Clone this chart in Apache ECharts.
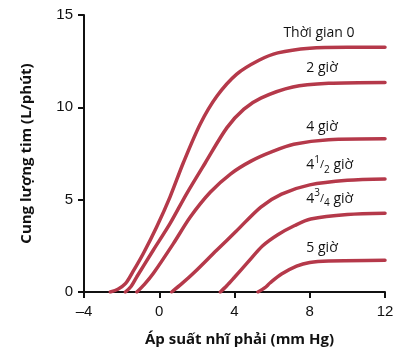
<!DOCTYPE html>
<html>
<head>
<meta charset="utf-8">
<script src="https://cdn.jsdelivr.net/npm/echarts@6/dist/echarts.min.js"></script>
<style>html,body{margin:0;padding:0;background:#fff}#c{width:407px;height:362px}</style>
</head>
<body>
<div id="c"></div>
<script>
const xTicks = [-4, 0, 4, 8, 12];
const yTicks = [0, 5, 10, 15];
const xName = 'Áp suất nhĩ phải (mm Hg)';
const yName = 'Cung lượng tim (L/phút)';

const curve0 = [[-2.6,0],[-2.2,0.15],[-1.8,0.45],[-1.4,1.1],[-0.84,2.1],[-0.14,3.52],[0.57,5.14],[1.28,7.0],[2.18,9.1],[3.06,10.6],[4.12,11.8],[5.3,12.55],[6.3,12.95],[8,13.2],[10,13.25],[12,13.25]];
const curve2h = [[-1.8,0],[-1.5,0.3],[-1.2,0.81],[-0.32,2.26],[0.57,3.7],[1.46,5.33],[2.45,7.0],[3.6,8.9],[4.5,9.9],[5.4,10.5],[7.1,11.1],[9,11.3],[12,11.35]];
const curve4h = [[-1.19,0],[-0.8,0.4],[-0.32,1.0],[0.75,2.62],[1.65,4.06],[2.71,5.4],[3.8,6.4],[4.9,7.1],[6,7.6],[7.15,8.0],[9,8.25],[12,8.3]];
const curve45h = [[0.66,0],[1.2,0.45],[1.8,1.0],[3.05,2.26],[4.1,3.3],[5.4,4.6],[6.5,5.3],[8,5.8],[10,6.05],[12,6.12]];
const curve475h = [[3.25,0],[3.6,0.35],[4.0,0.8],[4.7,1.6],[5.5,2.5],[6.3,3.1],[7.2,3.6],[8.05,3.95],[10,4.2],[12,4.27]];
const curve5h = [[5.25,0],[5.6,0.22],[5.9,0.5],[6.5,0.97],[7.3,1.4],[8,1.6],[9,1.68],[12,1.72]];

const curveLabels = ['{n|Thời gian 0}', '{n|2 giờ}', '{n|4 giờ}', '{n|4}{sup|1}{sm|/}{sub|2}{n| giờ}', '{n|4}{sup|3}{sm|/}{sub|4}{n| giờ}', '{n|5 giờ}'];
const labelX = [6.6, 7.82, 7.82, 7.82, 7.82, 7.82];
const labelY = [14.02, 12.11, 8.92, 6.86, 5.06, 2.37];

const curves = [curve0, curve2h, curve4h, curve45h, curve475h, curve5h];
const red = '#b5394a';

const rich = {
  n: {fontFamily: 'Open Sans', fontSize: 14, color: '#111', lineHeight: 20, verticalAlign: 'middle'},
  sup: {fontFamily: 'Open Sans', fontSize: 10, color: '#111', lineHeight: 10, verticalAlign: 'top'},
  sm: {fontFamily: 'Open Sans', fontSize: 11, color: '#111', lineHeight: 14, verticalAlign: 'middle'},
  sub: {fontFamily: 'Open Sans', fontSize: 10, color: '#111', lineHeight: 10, verticalAlign: 'bottom'}
};

const chart = echarts.init(document.getElementById('c'));
chart.setOption({
  animation: false,
  grid: {left: 84, right: 22, top: 15, bottom: 70},
  xAxis: {
    type: 'value', min: -4, max: 12, interval: 4,
    name: xName, nameLocation: 'middle', nameGap: 40,
    nameTextStyle: {fontFamily: 'Open Sans', fontWeight: 'bold', fontSize: 15, color: '#111', padding: [0,0,0,10]},
    axisLine: {show: true, onZero: false, lineStyle: {color: '#111', width: 2}},
    axisTick: {show: true, length: 6, lineStyle: {color: '#111', width: 2}},
    axisLabel: {fontFamily: 'Liberation Sans', fontSize: 15, color: '#111', margin: 12,
      formatter: v => xTicks.includes(v) ? String(v).replace('-', '\u2013') : ''},
    splitLine: {show: false}
  },
  yAxis: {
    type: 'value', min: 0, max: 15, interval: 5,
    name: yName, nameLocation: 'middle', nameGap: 50,
    nameTextStyle: {fontFamily: 'Open Sans', fontWeight: 'bold', fontSize: 15, color: '#111'},
    axisLine: {show: true, onZero: false, lineStyle: {color: '#111', width: 2}},
    axisTick: {show: true, length: 6, lineStyle: {color: '#111', width: 2}},
    axisLabel: {fontFamily: 'Liberation Sans', fontSize: 15, color: '#111', margin: 11,
      formatter: v => yTicks.includes(v) ? String(v) : ''},
    splitLine: {show: false}
  },
  series: curves.map((d, i) => ({
    type: 'line', data: d, smooth: 0.3, showSymbol: false, symbol: 'none',
    lineStyle: {color: red, width: 3.5, cap: 'round'}, z: 1,
    markPoint: {
      symbol: 'circle', symbolSize: 0, silent: true,
      data: [{coord: [labelX[i], labelY[i]]}],
      label: {show: true, position: 'right', distance: 0, formatter: curveLabels[i], rich: rich}
    }
  }))
});
</script>
</body>
</html>
